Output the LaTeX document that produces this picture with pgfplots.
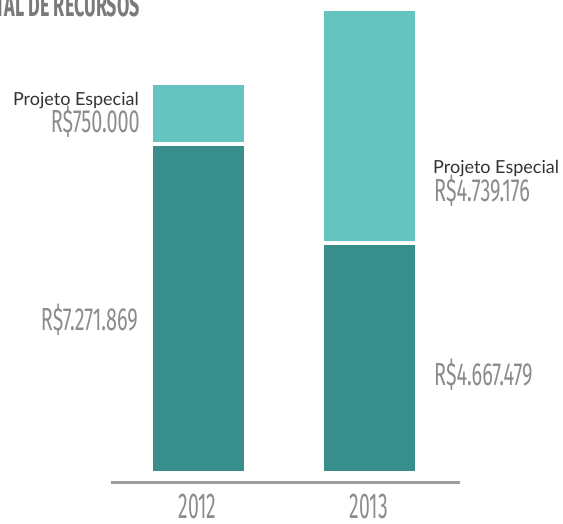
\documentclass[border=0pt]{standalone}
\usepackage{pgfplots}
\pgfplotsset{compat=1.18}
\usepackage{fontspec}
\setmainfont{Lato}
\newfontfamily\lato{Lato}
\newfontfamily\numfont[FakeStretch=0.62]{Fira Sans}
\newfontfamily\yearfont[FakeStretch=0.54]{Fira Sans}
\newfontfamily\titlefont[FakeStretch=0.56]{Fira Sans}
\definecolor{darkteal}{HTML}{388E8A}
\definecolor{lightteal}{HTML}{66C4C0}
\definecolor{numgray}{HTML}{8C8C8C}
\definecolor{titlegray}{HTML}{7A7A7A}
\definecolor{linegray}{HTML}{9E9E9E}
\definecolor{labeldark}{HTML}{333333}
\begin{document}
\begin{tikzpicture}
\begin{axis}[at={(0,0)}, anchor=south west, scale only axis,
  width=563pt, height=523pt,
  xmin=0, xmax=563, ymin=-1.028, ymax=9.602,
  hide axis, ybar stacked, bar width=94.5, clip=false]
\addplot[fill=darkteal, draw=white, line width=3.5pt] coordinates {(198.5,6.679) (369.9,4.667)};
\addplot[fill=lightteal, draw=white, line width=3.5pt] coordinates {(198.5,1.231) (369.9,4.739)};
\draw[linegray, line width=3pt] (axis cs:111,-0.209) -- (axis cs:460,-0.209);
% labels 2012
\node[anchor=base east, inner sep=0pt, text=labeldark, font=\lato\fontsize{18}{20}\selectfont] at (axis cs:139,7.453) {Projeto Especial};
\node[anchor=base east, inner sep=0pt, text=numgray, font=\numfont\fontsize{32}{34}\selectfont] at (axis cs:140,6.913) {R\$750.000};
\node[anchor=base east, inner sep=0pt, text=numgray, font=\numfont\fontsize{32}{34}\selectfont] at (axis cs:138,2.894) {R\$7.271.869};
% labels 2013
\node[anchor=base west, inner sep=0pt, text=labeldark, font=\lato\fontsize{18}{20}\selectfont] at (axis cs:433,6.079) {Projeto Especial};
\node[anchor=base west, inner sep=0pt, text=numgray, font=\numfont\fontsize{32}{34}\selectfont] at (axis cs:434,5.502) {R\$4.739.176};
\node[anchor=base west, inner sep=0pt, text=numgray, font=\numfont\fontsize{32}{34}\selectfont] at (axis cs:434,1.762) {R\$4.667.479};
% years
\node[anchor=base, inner sep=0pt, text=numgray, font=\yearfont\fontsize{36}{38}\selectfont] at (axis cs:197.5,-0.927) {2012};
\node[anchor=base, inner sep=0pt, text=numgray, font=\yearfont\fontsize{36}{38}\selectfont] at (axis cs:369,-0.927) {2013};
% title (cut off)
\node[anchor=base east, inner sep=0pt, text=titlegray, font=\titlefont\bfseries\fontsize{32}{34}\selectfont] at (axis cs:140,9.276) {TOTAL DE RECURSOS};
\end{axis}
\pgfresetboundingbox
\useasboundingbox (0,0) rectangle (563pt,523pt);
\end{tikzpicture}
\end{document}
